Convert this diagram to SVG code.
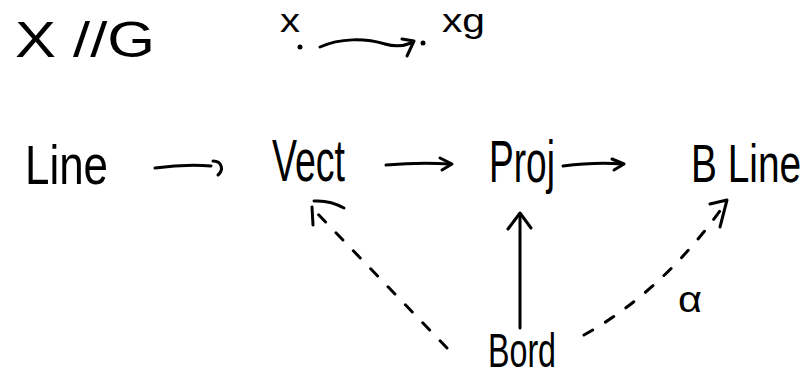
<svg xmlns="http://www.w3.org/2000/svg" width="811" height="379" viewBox="0 0 811 379">
<style>
text{font-family:"Liberation Sans","DejaVu Sans",sans-serif;fill:#000}
.s{fill:none;stroke:#000;stroke-width:3;stroke-linecap:round;stroke-linejoin:round}
.d{stroke-dasharray:10 15}
</style>
<rect width="811" height="379" fill="#fff"/>
<g id="title"><text x="15" y="57" font-size="50" textLength="140" lengthAdjust="spacingAndGlyphs">X //G</text></g>
<g id="x"><text x="280" y="32" font-size="34" textLength="20" lengthAdjust="spacingAndGlyphs">x</text><circle cx="300" cy="47" r="2.5"/></g>
<g id="xg"><circle cx="423" cy="43" r="2.5"/><text x="442" y="32" font-size="34" textLength="43" lengthAdjust="spacingAndGlyphs">xg</text></g>
<g id="Line"><text x="25" y="184" font-size="56" textLength="83" lengthAdjust="spacingAndGlyphs">Line</text></g>
<g id="Vect"><text x="272" y="181" font-size="60" textLength="73" lengthAdjust="spacingAndGlyphs">Vect</text></g>
<g id="Proj"><text x="489" y="182" font-size="60" textLength="66" lengthAdjust="spacingAndGlyphs">Proj</text></g>
<g id="BLine"><text transform="translate(691,182) scale(0.72,1)" font-size="54">B Line</text></g>
<g id="Bord"><text x="488" y="367" font-size="48" textLength="68" lengthAdjust="spacingAndGlyphs">Bord</text></g>
<g id="connectors">
<path class="s" d="M320,47 C340,38 365,38 385,44 C395,47 404,46 411,43"/>
<path class="s" d="M402,39 L414,41 L407,56"/>
<path class="s" d="M155,168 Q185,164 211,166"/>
<path class="s" d="M213,161 C222,161 224,170 218,175"/>
<path class="s" d="M386,165 Q420,162 450,164"/>
<path class="s" d="M440,158 L452,164 L442,170"/>
<path class="s" d="M563,166 Q595,162 622,164"/>
<path class="s" d="M612,159 L624,164 L614,170"/>
<path class="s" d="M520,328 L520,214"/>
<path class="s" d="M508,229 L520,213 L531,228"/>
<path class="s d" d="M447,348 L314,210"/>
<path class="s" d="M313,225 L312,207"/>
<path class="s" d="M314,201 Q330,200 344,208"/>
<path class="s d" d="M584,335 Q665,290 727,201"/>
<path class="s" d="M710,204 L727,200 L720,227"/>
<text x="678" y="312" font-size="36" textLength="24" lengthAdjust="spacingAndGlyphs">α</text>
</g>
</svg>
